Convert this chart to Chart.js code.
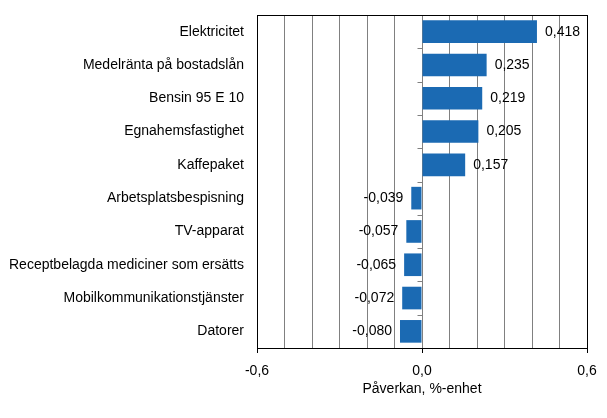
<!DOCTYPE html>
<html>
<head>
<meta charset="utf-8">
<script src="https://cdn.jsdelivr.net/npm/chart.js@4"></script>
<style>
html,body{margin:0;padding:0;background:#fff;}
#wrap{width:607px;height:418px;}
</style>
</head>
<body>
<div id="wrap"><canvas id="c" width="607" height="418"></canvas></div>
<script>
const categories = [
  "Elektricitet",
  "Medelränta på bostadslån",
  "Bensin 95 E 10",
  "Egnahemsfastighet",
  "Kaffepaket",
  "Arbetsplatsbespisning",
  "TV-apparat",
  "Receptbelagda mediciner som ersätts",
  "Mobilkommunikationstjänster",
  "Datorer"
];
const values = [0.418, 0.235, 0.219, 0.205, 0.157, -0.039, -0.057, -0.065, -0.072, -0.080];
const xTickLabels = [-0.6, 0, 0.6];
const axisTitle = "Påverkan, %-enhet";

const FONT = "'Liberation Sans', Arial, sans-serif";
const fmt = v => v.toFixed(1).replace('.', ',');
const fmt3 = v => v.toFixed(3).replace('.', ',');
const isEdge = v => Math.abs(Math.abs(v) - 0.6) < 1e-9;

const framePlugin = {
  id: 'frame',
  afterDatasetsDraw(chart) {
    const {ctx, chartArea: a, scales: {x, y}} = chart;
    ctx.save();
    ctx.font = "14px " + FONT;
    ctx.fillStyle = '#000';
    ctx.textBaseline = 'middle';
    const meta = chart.getDatasetMeta(0);
    meta.data.forEach((bar, i) => {
      const v = values[i];
      if (v >= 0) { ctx.textAlign = 'left'; ctx.fillText(fmt3(v), bar.x + 8, bar.y); }
      else { ctx.textAlign = 'right'; ctx.fillText(fmt3(v), bar.x - 8, bar.y); }
    });
    ctx.strokeStyle = '#000';
    ctx.lineWidth = 1;
    ctx.beginPath();
    ctx.moveTo(Math.round(a.left) + 0.5, Math.round(a.bottom) + 0.5);
    ctx.lineTo(Math.round(a.left) + 0.5, Math.round(a.top) + 0.5);
    ctx.lineTo(Math.round(a.right) + 0.5, Math.round(a.top) + 0.5);
    ctx.lineTo(Math.round(a.right) + 0.5, Math.round(a.bottom) + 0.5);
    ctx.stroke();
    ctx.beginPath();
    xTickLabels.forEach(v => {
      const px = Math.round(x.getPixelForValue(v)) + 0.5;
      ctx.moveTo(px, a.bottom);
      ctx.lineTo(px, a.bottom + 5);
    });
    ctx.stroke();
    const zx = Math.round(x.getPixelForValue(0)) + 0.5;
    ctx.strokeStyle = '#808080';
    ctx.beginPath();
    for (let i = 0; i < categories.length - 1; i++) {
      const py = Math.round((y.getPixelForValue(i) + y.getPixelForValue(i + 1)) / 2) + 0.5;
      ctx.moveTo(zx - 5, py);
      ctx.lineTo(zx, py);
    }
    ctx.stroke();
    ctx.restore();
  }
};

new Chart(document.getElementById('c'), {
  type: 'bar',
  data: {
    labels: categories,
    datasets: [{
      data: values,
      backgroundColor: '#1b6ab3',
      borderWidth: 0,
      categoryPercentage: 0.68,
      barPercentage: 1.0
    }]
  },
  options: {
    indexAxis: 'y',
    responsive: false,
    animation: false,
    devicePixelRatio: 1,
    layout: { padding: { left: 0, top: 15, right: 20, bottom: 0 } },
    plugins: { legend: { display: false }, tooltip: { enabled: false } },
    scales: {
      x: {
        min: -0.6, max: 0.6,
        afterFit(s) { s.height = 70; s.paddingLeft = 0; s.paddingRight = 0; },
        ticks: {
          stepSize: 0.1,
          autoSkip: false,
          maxRotation: 0,
          padding: 15,
          color: '#000',
          font: { family: FONT, size: 14 },
          callback(v) {
            return xTickLabels.some(t => Math.abs(t - v) < 1e-9) ? fmt(v) : '';
          }
        },
        grid: {
          drawTicks: false,
          color: c => isEdge(c.tick.value) ? '#000' : '#808080',
          lineWidth: 1
        },
        border: { display: true, color: '#000', width: 1 },
        title: {
          display: true,
          text: axisTitle,
          color: '#000',
          font: { family: FONT, size: 14 },
          padding: { top: 0, bottom: 20 }
        }
      },
      y: {
        afterFit(s) { s.width = 257; s.paddingTop = 0; s.paddingBottom = 0; },
        ticks: {
          padding: 13,
          color: '#000',
          font: { family: FONT, size: 14 }
        },
        grid: { display: false, drawTicks: false },
        border: { display: false }
      }
    }
  },
  plugins: [framePlugin]
});
</script>
</body>
</html>
